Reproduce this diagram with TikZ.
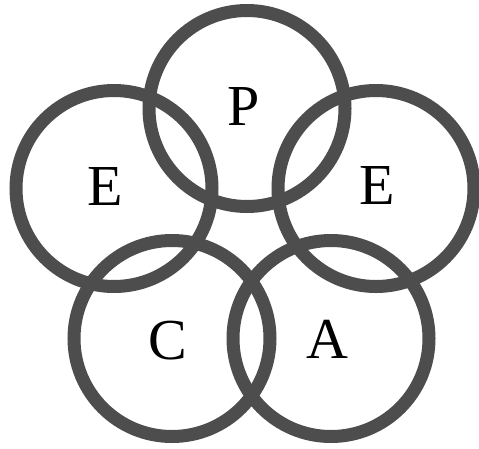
\documentclass[tikz,border=0pt]{standalone}
\usepackage{fontspec}
\setmainfont{Liberation Serif}
\definecolor{ring}{HTML}{4D4D4D}
\begin{document}
\begin{tikzpicture}[x=1pt,y=-1pt,
  ring/.style={circle,draw=ring,line width=13pt,minimum size=196pt,inner sep=0pt},
  letter/.style={inner sep=0pt,font=\fontsize{58}{60}\selectfont}]
\useasboundingbox[fill=white] (0,0) rectangle (479,448);
\node[ring] (cp) at (247,108.5) {};
\node[ring] (cel) at (114,188.5) {};
\node[ring] (cer) at (376,188.5) {};
\node[ring] (cc) at (172,338.5) {};
\node[ring] (ca) at (331,338.5) {};
\node[letter] (lp) at (244,107) {P};
\node[letter] (lel) at (105,187) {E};
\node[letter] (ler) at (377,186) {E};
\node[letter] (lc) at (168,341) {C};
\node[letter] (la) at (327,339) {A};
\end{tikzpicture}
\end{document}
